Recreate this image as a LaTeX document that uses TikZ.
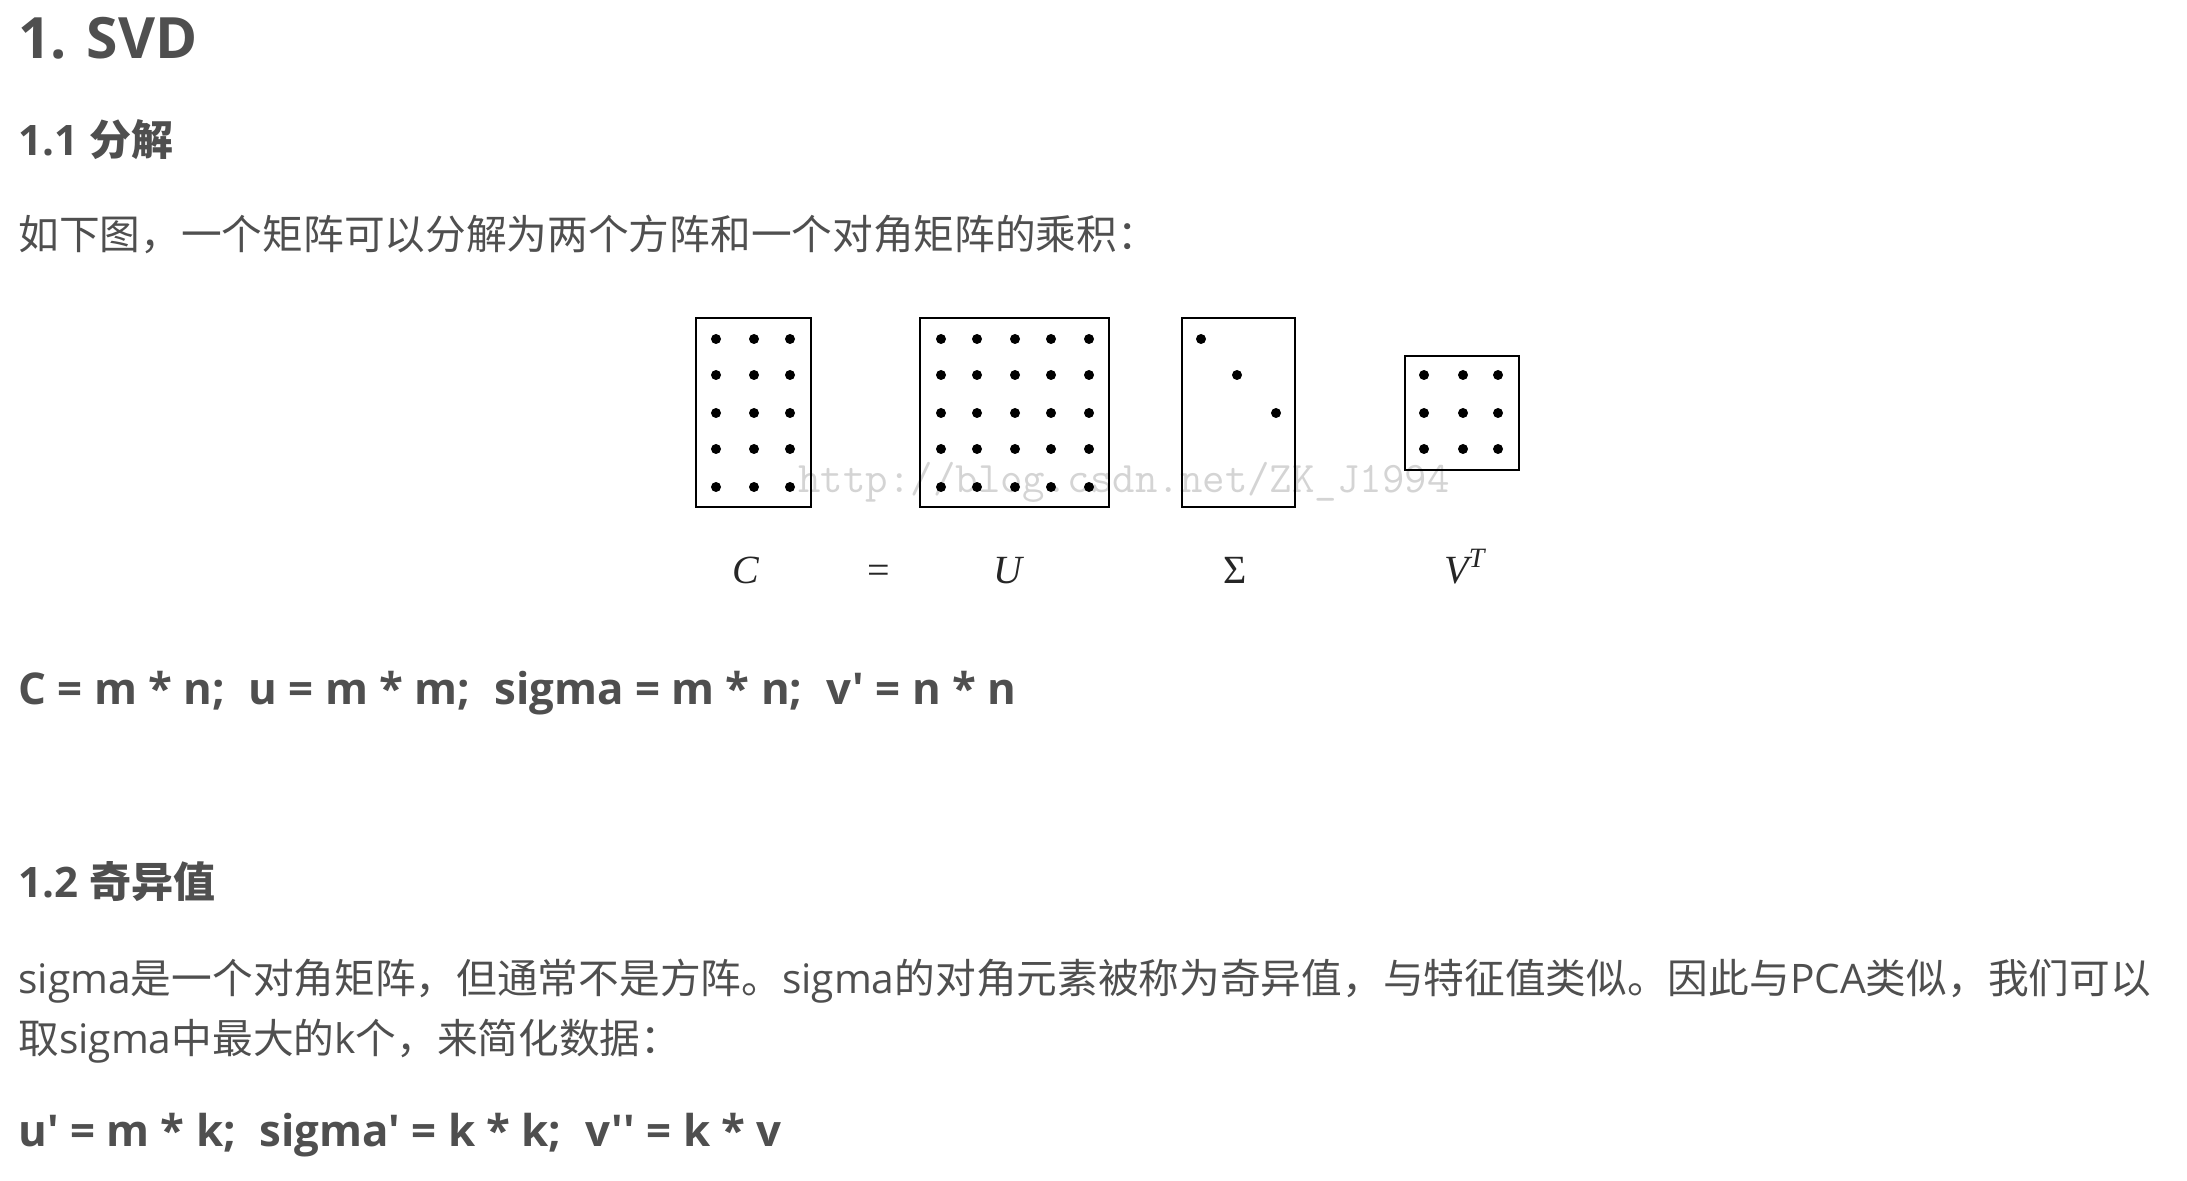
\documentclass[tikz,border=0pt]{standalone}
\usepackage{fontspec}
\setmainfont{Open Sans}[Ligatures=TeXOff]
\newfontfamily\zh{Noto Sans CJK SC}
\newfontfamily\tms{Liberation Serif}
\definecolor{txt}{HTML}{4F4F4F}
\definecolor{wmark}{HTML}{D4D4D4}
\tikzset{
  line/.style={anchor=base west, inner sep=0pt, text=txt, font=\fontsize{20.35}{24}\selectfont},
  boldline/.style={line, font=\fontsize{21.9}{26}\selectfont\bfseries},
  head/.style={line, font=\fontsize{21}{25}\selectfont\bfseries},
  title/.style={line, font=\fontsize{28.5}{32}\selectfont\bfseries},
  mat/.style={draw=black, line width=1.35pt, inner sep=0pt, fill=none},
  dot/.style={circle, fill=black, inner sep=0pt, minimum size=5pt},
  lab/.style={anchor=base, inner sep=0pt, text=black!85, font=\tms\fontsize{20}{24}\selectfont},
  wm/.style={anchor=base west, inner sep=0pt, text=wmark, font=\ttfamily\fontsize{21.8}{24}\selectfont}
}
\newcommand{\gap}{\hspace{0.28em}}
\begin{document}
\begin{tikzpicture}[x=0.5pt, y=-0.5pt]
\useasboundingbox (0,0) rectangle (2187,1181);
% texts
\node[title] (t1) at (18,59) {1. SVD};
\node[head] (h1) at (18,156) {1.1 {\zh 分解}};
\node[line] (p1) at (18,250) {\zh 如下图，一个矩阵可以分解为两个方阵和一个对角矩阵的乘积：};
\node[boldline] (f1) at (18,704) {C = m * n;\gap{} u = m * m;\gap{} sigma = m * n;\gap{} v' = n * n};
\node[head] (h2) at (18,897) {1.2 {\zh 奇异值}};
\node[line] (p2) at (18,993) {sigma{\zh 是一个对角矩阵，但通常不是方阵。}sigma{\zh 的对角元素被称为奇异值，与特征值类似。因此与}PCA{\zh 类似，我们可以}};
\node[line] (p3) at (18,1053) {{\zh 取}sigma{\zh 中最大的}k{\zh 个，来简化数据：}};
\node[boldline] (f2) at (18,1146) {u' = m * k;\gap{} sigma' = k * k;\gap{} v'' = k * v};
% watermark
\node[wm] (w) at (798,492) {http://blog.csdn.net/ZK\_J1994};
% matrices
\node[mat, minimum width=57.5pt, minimum height=94.5pt] (C) at (753.5,412.5) {};
\node[mat, minimum width=94.5pt, minimum height=94.5pt] (U) at (1014.5,412.5) {};
\node[mat, minimum width=56.5pt, minimum height=94.5pt] (S) at (1238.5,412.5) {};
\node[mat, minimum width=57pt, minimum height=57pt] (V) at (1462,413) {};
\foreach \x [count=\i] in {716,754,790}
  \foreach \y [count=\j] in {339,375,413,449,487}
    \node[dot] (c\i\j) at (\x,\y) {};
\foreach \x [count=\i] in {941,977,1015,1051,1089}
  \foreach \y [count=\j] in {339,375,413,449,487}
    \node[dot] (u\i\j) at (\x,\y) {};
\node[dot] (s1) at (1201,339) {};
\node[dot] (s2) at (1237,375) {};
\node[dot] (s3) at (1276,413) {};
\foreach \x [count=\i] in {1424,1463,1498}
  \foreach \y [count=\j] in {375,413,449}
    \node[dot] (v\i\j) at (\x,\y) {};
% labels
\node[lab] (lc) at (746,583) {\itshape C};
\node[lab] (leq) at (879,583) {=};
\node[lab] (lu) at (1008,583) {\itshape U};
\node[lab] (ls) at (1235,583) {Σ};
\node[lab] (lv) at (1465,583) {\itshape V\textsuperscript{T}};
\end{tikzpicture}
\end{document}
